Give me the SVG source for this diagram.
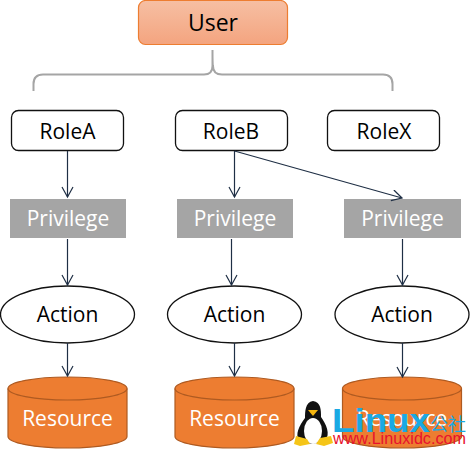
<svg xmlns="http://www.w3.org/2000/svg" width="471" height="449" viewBox="0 0 471 449">
<defs>
<linearGradient id="ug" x1="0" y1="0" x2="0" y2="1"><stop offset="0" stop-color="#f6bfa3"/><stop offset="1" stop-color="#f4a47f"/></linearGradient>
<marker id="arr" markerUnits="userSpaceOnUse" markerWidth="14" markerHeight="14" refX="11" refY="6" orient="auto"><path d="M1 0.5L11 6L1 11.5" fill="none" stroke="#1f2f45" stroke-width="1.2"/></marker>
</defs>
<style>
text{font-family:"Open Sans","Noto Sans","Liberation Sans",sans-serif;font-size:21px;text-anchor:middle}
.role{fill:#fff;stroke:#111;stroke-width:1.3}
.priv{fill:#a5a5a5}
.act{fill:#fff;stroke:#111;stroke-width:1.3}
.cyl{fill:#ed7d31;stroke:#ae5a21;stroke-width:1.2}
.w{fill:#fff}
.k{fill:#000}
.c{fill:none;stroke:#1f2f45;stroke-width:1.2;marker-end:url(#arr)}
</style>
<g id="user"><rect x="138.500" y="0.500" width="149" height="44" rx="7" fill="url(#ug)" stroke="#ed7d31" stroke-width="1.200"/><text x="213" y="31" class="k" style="font-size:23px">User</text></g>
<g id="brace"><path d="M33.500 91V84Q33.500 74.500 43 74.500H204Q212.500 74.500 212.500 66V50Q212.500 66 213 66Q213 74.500 222 74.500H383Q392.500 74.500 392.500 84V91" fill="none" stroke="#a5a5a5" stroke-width="2"/></g>
<g id="roleA"><rect class="role" x="11.500" y="110.500" width="112" height="40" rx="7"/><text x="67.500" y="139" class="k">RoleA</text></g>
<g id="roleB"><rect class="role" x="175.500" y="110.500" width="112" height="40" rx="7"/><text x="231" y="139" class="k">RoleB</text></g>
<g id="roleX"><rect class="role" x="327.500" y="110.500" width="112" height="40" rx="7"/><text x="384" y="139" class="k">RoleX</text></g>
<g id="privilege1"><rect class="priv" x="10" y="199" width="116" height="39"/><text x="68" y="226" class="w">Privilege</text></g>
<g id="privilege2"><rect class="priv" x="177" y="199" width="116" height="39"/><text x="235" y="226" class="w">Privilege</text></g>
<g id="privilege3"><rect class="priv" x="344" y="199" width="117" height="39"/><text x="402.500" y="226" class="w">Privilege</text></g>
<g id="action1"><ellipse class="act" cx="67.500" cy="314.500" rx="67" ry="28.500"/><text x="67.500" y="322" class="k">Action</text></g>
<g id="action2"><ellipse class="act" cx="234.500" cy="314.500" rx="67" ry="28.500"/><text x="234.500" y="322" class="k">Action</text></g>
<g id="action3"><ellipse class="act" cx="402" cy="314.500" rx="67" ry="28.500"/><text x="402" y="322" class="k">Action</text></g>
<g id="resource1"><path class="cyl" d="M8 388.500A59.500 11.500 0 0 1 127 388.500V436.500A59.500 11.500 0 0 1 8 436.500Z"/><path d="M8 388.500A59.500 11.500 0 0 0 127 388.500" fill="none" stroke="#ae5a21" stroke-width="1.200"/><text x="67.500" y="426" class="w">Resource</text></g>
<g id="resource2"><path class="cyl" d="M175 388.500A59.500 11.500 0 0 1 294 388.500V436.500A59.500 11.500 0 0 1 175 436.500Z"/><path d="M175 388.500A59.500 11.500 0 0 0 294 388.500" fill="none" stroke="#ae5a21" stroke-width="1.200"/><text x="234.500" y="426" class="w">Resource</text></g>
<g id="resource3"><path class="cyl" d="M342.500 388.500A59.500 11.500 0 0 1 461.500 388.500V436.500A59.500 11.500 0 0 1 342.500 436.500Z"/><path d="M342.500 388.500A59.500 11.500 0 0 0 461.500 388.500" fill="none" stroke="#ae5a21" stroke-width="1.200"/><text x="402" y="426" class="w">Resource</text></g>
<g id="connectors">
<path class="c" d="M67.500 151V197"/>
<path class="c" d="M234.500 151V197"/>
<path class="c" d="M234.500 151L402 198"/>
<path class="c" d="M67.500 239V285"/>
<path class="c" d="M231.500 239V285"/>
<path class="c" d="M402.500 239V285"/>
<path class="c" d="M67.500 343V376"/>
<path class="c" d="M234.500 343V376"/>
<path class="c" d="M402.500 343V377"/>
</g>
<g id="watermark">
<path d="M313 401C305 402 305 412 305 418C299 426 295 434 299 441L312 444L325 441C331 434 326 424 321 417C321 410 321 402 313 401Z" fill="#111"/>
<ellipse cx="313" cy="431" rx="9" ry="13" fill="#fff"/>
<path d="M308 410L318 410L313 416Z" fill="#f5b60f"/>
<path d="M296 436L307 439L310 444L300 446L294 444Z M316 444L320 438L331 436L333 443L324 446Z" fill="#f5c518"/>
<text x="332" y="432" font-weight="700" textLength="98" lengthAdjust="spacingAndGlyphs" style="font-family:'Liberation Sans',sans-serif;font-size:34px;text-anchor:start" fill="#1aa9e3">Linux</text>
<text x="430" y="431" style="font-family:'Noto Sans CJK SC',sans-serif;font-size:18px;text-anchor:start" fill="#1aa9e3">公社</text>
<text x="333" y="444" textLength="133" lengthAdjust="spacingAndGlyphs" style="font-family:'Liberation Sans',sans-serif;font-size:16px;text-anchor:start" fill="#e8112d">www.Linuxidc.com</text>
</g>
</svg>
